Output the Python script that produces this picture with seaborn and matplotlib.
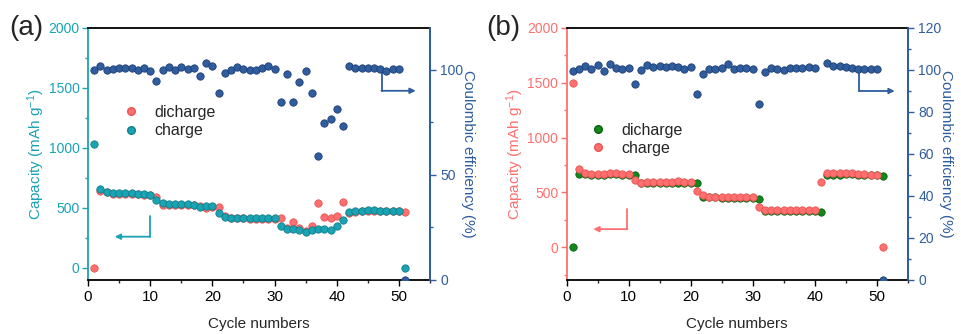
import numpy as np
import seaborn as sns
import matplotlib.pyplot as plt

from matplotlib.ticker import MultipleLocator
from matplotlib.lines import Line2D

# =============================================================================
# Data
# =============================================================================

cycles = list(range(1, 52))

# panel (a)
a_discharge = [0, 640, 630, 620, 620, 620, 620, 615, 610, 605,
               594, 528, 525, 525, 525, 525, 522, 520, 500, 505,
               511, 435, 418, 415, 415, 412, 410, 410, 410, 412,
               414, 330, 386, 336, 310, 350, 544, 428, 414, 437,
               548, 462, 470, 474, 478, 478, 475, 474, 474, 474,
               469]
a_charge = [1033, 655, 636, 628, 625, 625, 625, 620, 615, 608,
            567, 539, 532, 530, 530, 530, 527, 510, 515, 520,
            456, 428, 420, 420, 418, 418, 415, 415, 415, 418,
            353, 322, 322, 315, 303, 315, 322, 322, 320, 353,
            400, 467, 475, 478, 480, 480, 478, 476, 476, 476,
            0]
a_ce = [100, 102, 100, 100.3, 100.8, 100.8, 100.8, 100, 101, 99.7,
        94.8, 100, 101.6, 100, 101.6, 100.3, 101, 97.1, 103.5, 102,
        89.2, 98.4, 100, 101.6, 100.3, 100, 100, 100.8, 102, 100.3,
        84.9, 98, 84.6, 94.4, 99.7, 89, 59.2, 74.9, 76.7, 81.3,
        73.5, 102, 101, 100.8, 100.8, 100.8, 100.3, 99.7, 100.3, 100.3,
        0]

# panel (b)
b_discharge = [0, 665, 665, 662, 662, 662, 665, 665, 662, 662,
               659, 583, 583, 583, 583, 585, 585, 585, 583, 583,
               583, 455, 455, 455, 452, 452, 452, 452, 452, 452,
               443, 331, 331, 331, 331, 331, 331, 331, 331, 331,
               319, 659, 662, 662, 665, 665, 662, 659, 656, 656,
               653]
b_charge = [1500, 711, 674, 669, 669, 669, 674, 674, 669, 669,
            613, 583, 592, 592, 594, 597, 597, 600, 594, 594,
            516, 477, 461, 461, 458, 458, 458, 458, 458, 458,
            370, 340, 335, 335, 335, 335, 335, 335, 335, 335,
            592, 673, 677, 677, 677, 677, 668, 664, 660, 660,
            0]
b_ce = [99.7, 100.3, 101.9, 100.6, 102.4, 99.5, 102.7, 101.1, 100.6, 100.8,
        93.3, 100.2, 102.4, 101.3, 101.9, 101.6, 102, 101.6, 100.6, 101.6,
        88.6, 98.1, 100.3, 100.3, 101, 102.7, 100.5, 101, 101, 100.5,
        83.7, 99, 101, 100.3, 100, 100.8, 100.8, 100.8, 101.6, 101,
        np.nan, 103.2, 101.9, 101.9, 101.3, 100.8, 100.5, 100.3, 100.3, 100.6,
        0]

# =============================================================================
# Style
# =============================================================================

sns.set_style("ticks")
plt.rcParams["font.family"] = ["Liberation Sans", "DejaVu Sans"]
plt.rcParams["mathtext.default"] = "regular"

teal = "#1aa3b3"
red = "#ff6f6f"
green = "#12871a"
blue = "#2f5d9e"

fig = plt.figure(figsize=(9.62, 3.34), dpi=100)


def style_axes(ax, ax2, left_color, ylim_left, ylim_right, right_step, right_minor):
    ax.set_xlim(0, 55)
    ax.set_ylim(*ylim_left)
    ax2.set_ylim(*ylim_right)

    ax.xaxis.set_major_locator(MultipleLocator(10))
    ax.xaxis.set_minor_locator(MultipleLocator(5))
    ax.yaxis.set_major_locator(MultipleLocator(500))
    ax.yaxis.set_minor_locator(MultipleLocator(250))
    ax2.yaxis.set_major_locator(MultipleLocator(right_step))
    ax2.yaxis.set_minor_locator(MultipleLocator(right_minor))

    ax.tick_params(axis="x", which="major", direction="out", length=4,
                   width=1, labelsize=11, colors="black")
    ax.tick_params(axis="x", which="minor", direction="out", length=2.5, width=1)
    ax.tick_params(axis="y", which="major", direction="out", length=4, width=1,
                   labelsize=10, colors=left_color, pad=2)
    ax.tick_params(axis="y", which="minor", direction="out", length=2.5,
                   width=1, colors=left_color)
    ax2.tick_params(axis="y", which="major", direction="out", length=4, width=1,
                    labelsize=10, colors=blue)
    ax2.tick_params(axis="y", which="minor", direction="out", length=2.5,
                    width=1, colors=blue)

    for a in (ax, ax2):
        a.spines["top"].set_visible(True)
        a.spines["top"].set_color("black")
        a.spines["bottom"].set_color("black")
        a.spines["left"].set_color(left_color)
        a.spines["right"].set_color(blue)
        for spine in a.spines.values():
            spine.set_linewidth(1.3)
    ax2.spines["left"].set_visible(False)
    ax2.spines["bottom"].set_visible(False)
    ax2.spines["top"].set_visible(False)

    ax.set_xlabel("Cycle numbers", fontsize=11, labelpad=9)
    ax.set_ylabel("Capacity (mAh g$^{-1}$)", fontsize=11, color=left_color,
                  labelpad=1)
    ax2.set_ylabel("Coulombic efficiency (%)", fontsize=11, color=blue,
                   rotation=270, labelpad=8)


def dots(ax, y, color, edge):
    sns.scatterplot(x=cycles, y=y, ax=ax, color=color, s=28,
                    edgecolor=edge, linewidth=0.6, zorder=3, legend=False)


def panel(rect, discharge, charge, ce, c_dis, e_dis, c_chg, e_chg,
          left_color, ylim_left, ylim_right, right_step, right_minor,
          left_arrow, right_arrow):
    ax = fig.add_axes(rect)
    ax2 = ax.twinx()

    dots(ax, discharge, c_dis, e_dis)
    dots(ax, charge, c_chg, e_chg)
    dots(ax2, ce, blue, "#1f3f73")

    style_axes(ax, ax2, left_color, ylim_left, ylim_right, right_step, right_minor)

    # bent arrows pointing to the matching axis
    x0, y_top, y_bot, x_tip = left_arrow
    ax.plot([x0, x0], [y_top, y_bot], color=left_color, lw=1.3)
    ax.annotate("", xy=(x_tip, y_bot), xytext=(x0, y_bot),
                arrowprops=dict(arrowstyle="-|>", color=left_color, lw=1.3,
                                mutation_scale=8, shrinkA=0, shrinkB=0))
    x0, y_top, y_bot, x_tip = right_arrow
    ax2.plot([x0, x0], [y_top, y_bot], color=blue, lw=1.3)
    ax2.annotate("", xy=(x_tip, y_bot), xytext=(x0, y_bot),
                 arrowprops=dict(arrowstyle="-|>", color=blue, lw=1.3,
                                 mutation_scale=8, shrinkA=0, shrinkB=0))

    handles = [
        Line2D([0], [0], marker="o", color="w", markerfacecolor=c_dis,
               markeredgecolor=e_dis, markersize=5.5, label="dicharge"),
        Line2D([0], [0], marker="o", color="w", markerfacecolor=c_chg,
               markeredgecolor=e_chg, markersize=5.5, label="charge"),
    ]
    return ax, ax2, handles


ax_a, ax_a2, h_a = panel(
    [0.0915, 0.1617, 0.3555, 0.7545],
    a_discharge, a_charge, a_ce, red, "#e85555", teal, "#127f8c",
    teal, (-100, 2000), (0, 120), 50, 25,
    (10, 433, 261, 4.3), (47.2, 99.7, 90.1, 52.7),
)
ax_a.legend(handles=h_a, frameon=False, fontsize=11.5, loc="upper left",
            bbox_to_anchor=(0.06, 0.72), handletextpad=0.5, labelspacing=0.2,
            borderaxespad=0)
fig.text(0.01, 0.915, "(a)", fontsize=20, va="center", ha="left")

ax_b, ax_b2, h_b = panel(
    [0.589, 0.1617, 0.3546, 0.7545],
    b_discharge, b_charge, b_ce, green, "#0a5e10", red, "#e85555",
    red, (-300, 2000), (0, 120), 20, 10,
    (9.8, 346, 164, 4.3), (47.1, 100.8, 90, 52.9),
)
ax_b.legend(handles=h_b, frameon=False, fontsize=11.5, loc="upper left",
            bbox_to_anchor=(0.025, 0.65), handletextpad=0.5, labelspacing=0.2,
            borderaxespad=0)
fig.text(0.505, 0.915, "(b)", fontsize=20, va="center", ha="left")

plt.savefig("out.png", dpi=100)
